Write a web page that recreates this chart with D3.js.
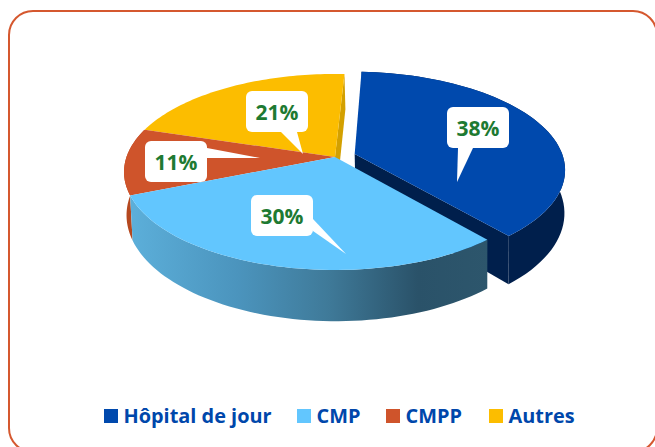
<!DOCTYPE html>
<meta charset="utf-8">
<style>
body { margin: 0; background: #fff; }
svg { display: block; }
text { font-family: "Open Sans", Lato, sans-serif; font-weight: 700; }
.legend text { font-size: 19.9px; fill: #0047ab; }
.callout text { font-size: 21px; fill: #1e7a32; text-anchor: middle; }
.callout path { fill: #fff; }
</style>
<svg width="655" height="447"></svg>
<script src="https://d3js.org/d3.v7.min.js"></script>
<script>

var categories = ["Hôpital de jour", "CMP", "CMPP", "Autres"];
var values = [38, 30, 11, 21];
var topColors = ["#0049ad", "#62c6fe", "#cf542b", "#fcbd00"];
var sideColors = ["#001f4c", "url(#cmpSide)", "#b5481f", "#d3a000"];

// perspective of the two pie planes, fitted on the picture
var topPlane = { cx: 335, cy: 157, a: 208.5, b: 95.7 },
    bottomPlane = { cx: 336, cy: 199, a: 207, b: 103.5 },
    persp = 0.153,
    explode = [0.1, 0, 0, 0];

// callouts: box x, y and tail base + tip
var callouts = [
  { x: 447, y: 107, tail: [[458, 148], [473, 148], [457, 182]] },
  { x: 251, y: 195, tail: [[313, 219], [313, 231], [346, 254]] },
  { x: 145, y: 141, tail: [[207, 148], [207, 158], [260, 158]] },
  { x: 246, y: 91, tail: [[281, 132], [297, 132], [303, 154]] }
];
var boxW = 62, boxH = 41;

var legendX = [104, 297, 386, 489];

var svg = d3.select("svg");

var grad = svg.append("defs").append("linearGradient")
    .attr("id", "cmpSide")
    .attr("gradientUnits", "userSpaceOnUse")
    .attr("x1", 130).attr("x2", 490).attr("y1", 0).attr("y2", 0);
grad.selectAll("stop")
  .data([[0, "#5cafda"], [0.3, "#4b94bd"], [0.55, "#3f7a99"], [0.8, "#2a5269"], [1, "#2d566c"]])
  .enter().append("stop")
    .attr("offset", function(d) { return d[0]; })
    .attr("stop-color", function(d) { return d[1]; });

svg.append("rect")
    .attr("x", 9).attr("y", 11)
    .attr("width", 648).attr("height", 441)
    .attr("rx", 24)
    .attr("fill", "#fff")
    .attr("stroke", "#d5582f")
    .attr("stroke-width", 2);

var pie = d3.pie()
    .sort(null)
    .startAngle(3 * Math.PI / 180)
    .endAngle(363 * Math.PI / 180);

var slices = pie(values);

// circle coordinates -> screen
function project(plane, u, v) {
  var w = 1 - persp * v;
  return [plane.cx + plane.a * u / w, plane.cy + plane.b * v / w];
}

function rimPoint(plane, d, angle, r) {
  var e = explode[d.index];
  var mid = (d.startAngle + d.endAngle) / 2;
  return project(plane,
    r * Math.sin(angle) + e * Math.sin(mid),
    -r * Math.cos(angle) - e * Math.cos(mid));
}

function rim(plane, d, a0, a1) {
  var n = 60;
  return d3.range(n + 1).map(function(i) {
    return rimPoint(plane, d, a0 + (a1 - a0) * i / n, 1);
  });
}

var line = d3.line();

function topFace(d) {
  return line([rimPoint(topPlane, d, 0, 0)].concat(rim(topPlane, d, d.startAngle, d.endAngle))) + "Z";
}

function outerSide(d) {
  return line(rim(topPlane, d, d.startAngle, d.endAngle)
    .concat(rim(bottomPlane, d, d.startAngle, d.endAngle).reverse())) + "Z";
}

function cutFace(d, angle) {
  return line([
    rimPoint(topPlane, d, 0, 0),
    rimPoint(topPlane, d, angle, 1),
    rimPoint(bottomPlane, d, angle, 1),
    rimPoint(bottomPlane, d, 0, 0)
  ]) + "Z";
}

var pieG = svg.append("g");

// back to front: blue, yellow, orange, cyan
[0, 3, 2, 1].forEach(function(i) {
  var d = slices[i];
  if (i === 0) {
    pieG.append("path").attr("d", cutFace(d, d.endAngle)).attr("fill", sideColors[i]);
    pieG.append("path").attr("d", outerSide(d)).attr("fill", sideColors[i]);
  } else if (i === 3) {
    pieG.append("path").attr("d", cutFace(d, d.endAngle)).attr("fill", sideColors[i]);
  } else {
    pieG.append("path").attr("d", outerSide(d)).attr("fill", sideColors[i]);
  }
  pieG.append("path").attr("d", topFace(d)).attr("fill", topColors[i]);
});

function roundBox(x, y, w, h, r) {
  var p = d3.path();
  p.moveTo(x + r, y);
  p.arcTo(x + w, y, x + w, y + h, r);
  p.arcTo(x + w, y + h, x, y + h, r);
  p.arcTo(x, y + h, x, y, r);
  p.arcTo(x, y, x + w, y, r);
  p.closePath();
  return p.toString();
}

var callout = svg.selectAll("g.callout")
  .data(values)
  .enter().append("g")
    .attr("class", "callout");

callout.append("path")
    .attr("d", function(d, i) { return roundBox(callouts[i].x, callouts[i].y, boxW, boxH, 6); });
callout.append("path")
    .attr("d", function(d, i) { return line(callouts[i].tail) + "Z"; });
callout.append("text")
    .attr("x", function(d, i) { return callouts[i].x + boxW / 2; })
    .attr("y", function(d, i) { return callouts[i].y + boxH / 2 + 8; })
    .text(function(d) { return d + "%"; });

var legend = svg.append("g").attr("class", "legend")
  .selectAll("g")
  .data(categories)
  .enter().append("g");

legend.append("rect")
    .attr("x", function(d, i) { return legendX[i]; })
    .attr("y", 409)
    .attr("width", 14).attr("height", 14)
    .attr("fill", function(d, i) { return topColors[i]; });
legend.append("text")
    .attr("x", function(d, i) { return legendX[i] + 19.5; })
    .attr("y", 423)
    .text(function(d) { return d; });

</script>
